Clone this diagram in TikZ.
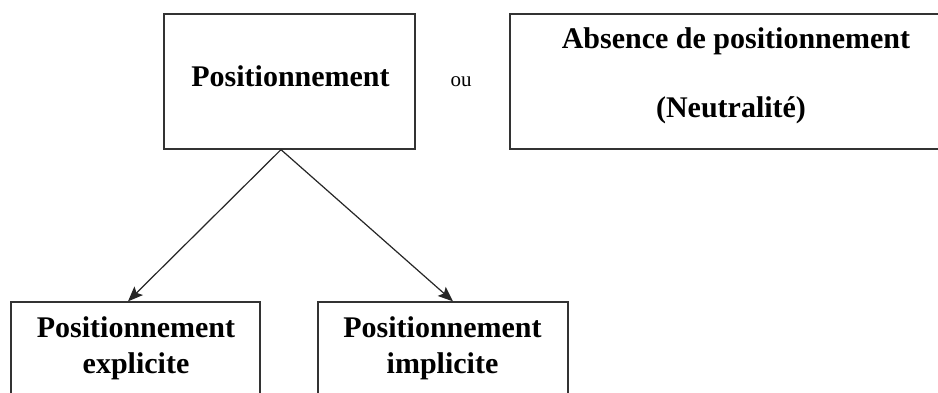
\documentclass[tikz,border=0pt]{standalone}
\usepackage{fontspec}
\setmainfont{Liberation Serif}
\usetikzlibrary{arrows.meta}
\tikzset{
  box/.style={draw=black!80, line width=1.3pt, inner sep=0pt, fill=white},
  bigtext/.style={font=\fontsize{30}{36}\selectfont\bfseries, inner sep=0pt, anchor=base},
  smalltext/.style={font=\fontsize{21}{25}\selectfont, inner sep=0pt, anchor=base},
  arr/.style={draw=black!85, line width=1.2pt, -{Stealth[length=15pt,width=12pt,inset=3pt]}}
}
\begin{document}
\begin{tikzpicture}[x=1pt,y=-1pt]
\fill[white] (0,0) rectangle (938,392);
\clip (0,0) rectangle (938,392);
% boxes
\node[box, minimum width=251pt, minimum height=135pt] (pos) at (289.5,81.5) {};
\node[box, minimum width=452pt, minimum height=135pt] (abs) at (736,81.5) {};
\node[box, minimum width=249pt, minimum height=120pt] (expl) at (135.5,362) {};
\node[box, minimum width=250pt, minimum height=120pt] (impl) at (443,362) {};
% texts
\node[bigtext] (tpos) at (290.5,86) {Positionnement};
\node[smalltext] (ou) at (461,86) {ou};
\node[bigtext] (tabs1) at (736,48) {Absence de positionnement};
\node[bigtext] (tabs2) at (731,117) {(Neutralité)};
\node[bigtext] (texpl1) at (136,337) {Positionnement};
\node[bigtext] (texpl2) at (136,373) {explicite};
\node[bigtext] (timpl1) at (442.5,337) {Positionnement};
\node[bigtext] (timpl2) at (442.5,373) {implicite};
% arrows
\draw[arr] ([xshift=-8.5pt]pos.south) -- ([xshift=-7.5pt]expl.north);
\draw[arr] ([xshift=-8.5pt]pos.south) -- ([xshift=10pt]impl.north);
\end{tikzpicture}
\end{document}
